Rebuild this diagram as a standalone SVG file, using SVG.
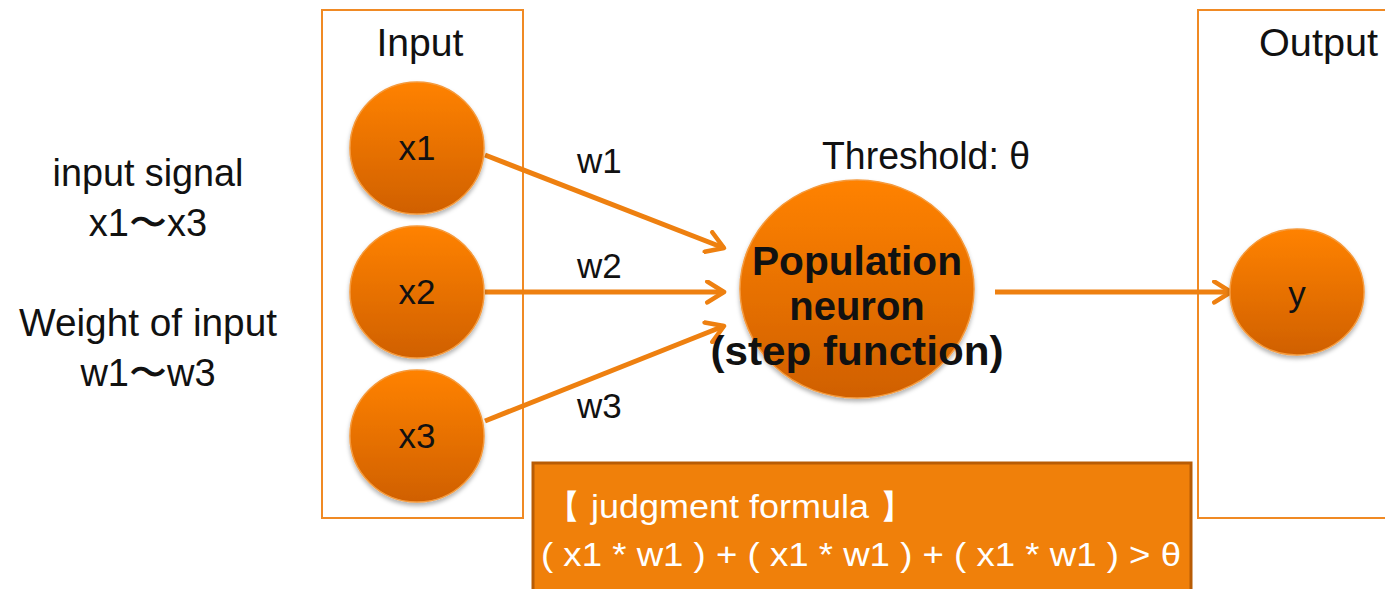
<svg xmlns="http://www.w3.org/2000/svg" width="1385" height="589" viewBox="0 0 1385 589">
<style>
.t{font-family:"Liberation Sans",Arial,sans-serif;font-size:38px;fill:#111;}
.s{font-size:35px;}
.c{text-anchor:middle;}
.b{font-weight:bold;font-size:40px;}
.box{fill:none;stroke:#f08a24;stroke-width:2;}
.node{fill:url(#g);stroke:#f59a3c;stroke-width:1.5;filter:url(#sh);}
.conn{stroke:#ee8010;stroke-width:5;fill:none;marker-end:url(#ah);}
.f{font-family:"Liberation Sans Narrow","Liberation Sans",Arial,sans-serif;font-size:33px;fill:#fff;}
</style>
<defs>
<linearGradient id="g" x1="0" y1="0" x2="0" y2="1">
<stop offset="0" stop-color="#ff8200"/>
<stop offset="1" stop-color="#d06000"/>
</linearGradient>
<filter id="sh" x="-20%" y="-20%" width="140%" height="150%">
<feDropShadow dx="0" dy="3" stdDeviation="2" flood-color="#000" flood-opacity="0.3"/>
</filter>
<marker id="ah" viewBox="0 0 12 12" refX="10" refY="6" markerWidth="5" markerHeight="5" orient="auto" markerUnits="strokeWidth">
<path d="M2,1 L10,6 L2,11" fill="none" stroke="#ee8010" stroke-width="2.2" stroke-linecap="round" stroke-linejoin="round"/>
</marker>
</defs>
<rect width="1385" height="589" fill="#fff"/>

<g id="input-box">
<rect class="box" x="322" y="10" width="201" height="508"/>
<text class="t c" x="420" y="56" textLength="87" lengthAdjust="spacingAndGlyphs">Input</text>
</g>
<g id="output-box">
<rect class="box" x="1198" y="10" width="200" height="508"/>
<text class="t" x="1259" y="56" textLength="119" lengthAdjust="spacingAndGlyphs">Output</text>
</g>

<g id="legend">
<text class="t c" x="148" y="186" textLength="191" lengthAdjust="spacingAndGlyphs">input signal</text>
<text class="t c" x="148" y="236">x1〜x3</text>
<text class="t c" x="148" y="336" textLength="258" lengthAdjust="spacingAndGlyphs">Weight of input</text>
<text class="t c" x="148" y="386">w1〜w3</text>
</g>

<g id="connectors">
<line class="conn" x1="485" y1="155" x2="724" y2="248"/>
<line class="conn" x1="485" y1="292" x2="724" y2="292"/>
<line class="conn" x1="485" y1="421" x2="724" y2="326"/>
<line class="conn" x1="995" y1="292" x2="1231" y2="292"/>
<text class="t s" x="577" y="173">w1</text>
<text class="t s" x="577" y="278">w2</text>
<text class="t s" x="577" y="418">w3</text>
</g>

<g id="x1">
<ellipse class="node" cx="417" cy="148" rx="67" ry="66"/>
<text class="t c s" x="417" y="160">x1</text>
</g>
<g id="x2">
<ellipse class="node" cx="417" cy="292" rx="67" ry="66"/>
<text class="t c s" x="417" y="304">x2</text>
</g>
<g id="x3">
<ellipse class="node" cx="417" cy="436" rx="67" ry="66"/>
<text class="t c s" x="417" y="448">x3</text>
</g>

<g id="neuron">
<text class="t" x="822" y="169" textLength="208" lengthAdjust="spacingAndGlyphs">Threshold: θ</text>
<ellipse class="node" cx="857" cy="289" rx="117" ry="109"/>
<text class="t c b" x="857" y="275" textLength="210" lengthAdjust="spacingAndGlyphs">Population</text>
<text class="t c b" x="857" y="320">neuron</text>
<text class="t c b" x="857" y="365" textLength="293" lengthAdjust="spacingAndGlyphs">(step function)</text>
</g>

<g id="y">
<ellipse class="node" cx="1297" cy="292" rx="67" ry="63"/>
<text class="t c s" x="1297" y="306">y</text>
</g>

<g id="formula">
<rect x="533" y="463" width="658" height="140" fill="#f0800a" stroke="#b85c05" stroke-width="3"/>
<text class="f" x="545" y="518" textLength="370" lengthAdjust="spacingAndGlyphs">【 judgment formula 】</text>
<text class="f" x="541" y="566" textLength="640" lengthAdjust="spacingAndGlyphs">( x1 * w1 ) + ( x1 * w1 ) + ( x1 * w1 ) &gt; θ</text>
</g>
</svg>
